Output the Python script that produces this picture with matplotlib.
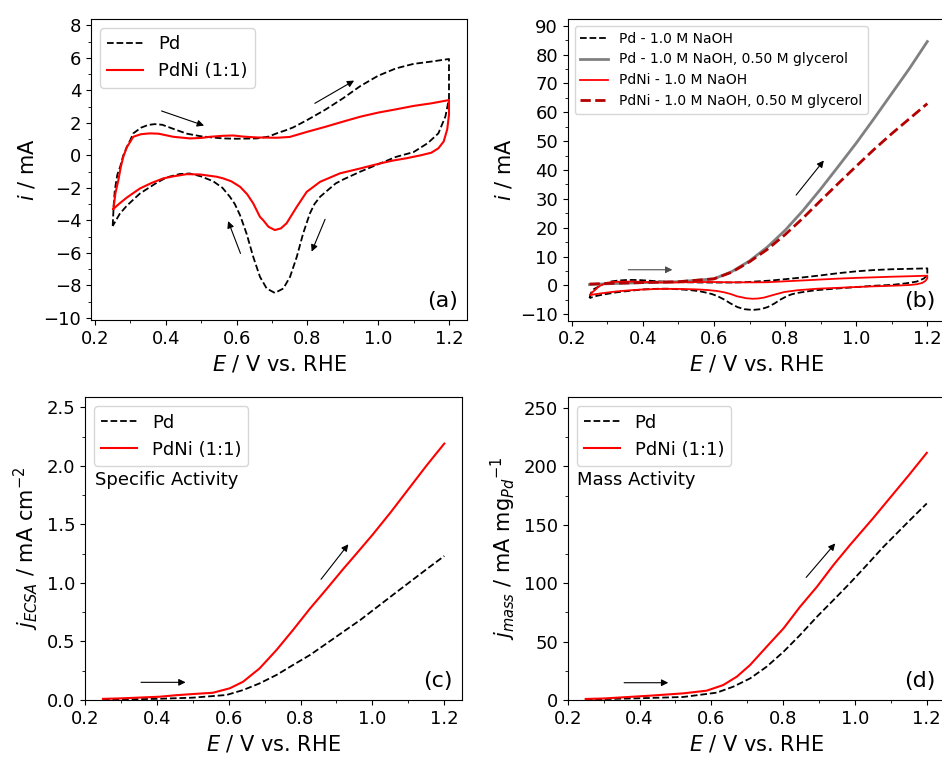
import matplotlib.pyplot as plt
from matplotlib.ticker import MultipleLocator

# --- (a) CV in 1.0 M NaOH: anodic (fwd) and cathodic (rev) branches ---
pd_E_fwd = [0.25, 0.253, 0.256, 0.263, 0.271, 0.28, 0.29, 0.30, 0.308, 0.33, 0.35, 0.369,
            0.39, 0.431, 0.46, 0.497, 0.53, 0.562, 0.60, 0.657, 0.69, 0.713, 0.74, 0.76,
            0.80, 0.85, 0.90, 0.95, 1.00, 1.05, 1.10, 1.15, 1.20]
pd_i_fwd = [-4.35, -3.0, -2.14, -1.2, -0.71, 0.0, 0.52, 0.95, 1.35, 1.7, 1.87, 1.92,
            1.88, 1.55, 1.33, 1.18, 1.1, 1.04, 1.02, 1.04, 1.15, 1.35, 1.55, 1.72,
            2.18, 2.8, 3.5, 4.27, 4.9, 5.35, 5.63, 5.77, 5.93]
pd_E_rev = [1.20, 1.20, 1.19, 1.17, 1.14, 1.10, 1.05, 1.00, 0.95, 0.90, 0.88, 0.86, 0.836,
            0.82, 0.807, 0.788, 0.77, 0.751, 0.732, 0.708, 0.685, 0.666, 0.647, 0.628, 0.61,
            0.595, 0.581, 0.56, 0.534, 0.50, 0.468, 0.44, 0.402, 0.37, 0.327, 0.29, 0.27, 0.25]
pd_i_rev = [5.93, 3.5, 2.4, 1.35, 0.75, 0.2, -0.1, -0.55, -1.0, -1.5, -1.73, -2.1, -2.55,
            -3.0, -3.58, -4.81, -6.25, -7.48, -8.2, -8.47, -8.2, -7.48, -6.25, -4.81, -3.7,
            -3.0, -2.55, -2.0, -1.6, -1.3, -1.12, -1.15, -1.36, -1.75, -2.35, -3.1, -3.6, -4.35]

pdni_E_fwd = [0.252, 0.258, 0.266, 0.273, 0.28, 0.29, 0.30, 0.308, 0.33, 0.355, 0.38, 0.421,
              0.468, 0.50, 0.525, 0.56, 0.591, 0.62, 0.657, 0.713, 0.75, 0.80, 0.85, 0.90,
              0.95, 1.00, 1.05, 1.10, 1.15, 1.20]
pdni_i_fwd = [-3.3, -2.3, -1.53, -0.7, -0.09, 0.5, 0.85, 1.14, 1.3, 1.35, 1.33, 1.14,
              1.04, 1.07, 1.14, 1.2, 1.22, 1.15, 1.1, 1.08, 1.13, 1.45, 1.75, 2.07,
              2.38, 2.63, 2.83, 3.04, 3.2, 3.4]
pdni_E_rev = [1.20, 1.20, 1.195, 1.185, 1.17, 1.15, 1.12, 1.08, 1.04, 1.005, 0.949, 0.892,
              0.836, 0.798, 0.77, 0.741, 0.725, 0.708, 0.69, 0.675, 0.666, 0.647, 0.63, 0.61,
              0.585, 0.562, 0.544, 0.497, 0.459, 0.42, 0.393, 0.36, 0.327, 0.29, 0.27, 0.252]
pdni_i_rev = [3.4, 2.5, 1.6, 0.85, 0.43, 0.16, 0.0, -0.18, -0.33, -0.5, -0.81, -1.11,
              -1.63, -2.25, -3.17, -4.19, -4.5, -4.6, -4.4, -3.99, -3.79, -2.96, -2.4, -1.94,
              -1.6, -1.42, -1.32, -1.18, -1.16, -1.3, -1.42, -1.7, -2.04, -2.6, -2.95, -3.3]

# --- (b) forward scans in 1.0 M NaOH + 0.50 M glycerol ---
gly_E = [0.25, 0.30, 0.40, 0.50, 0.55, 0.60, 0.65, 0.70, 0.75, 0.80, 0.85, 0.90,
         0.95, 1.00, 1.05, 1.10, 1.15, 1.20]
pd_gly_i = [0.3, 0.6, 1.0, 1.3, 1.8, 2.3, 4.8, 8.5, 13.3, 19.1, 25.9, 33.4,
            41.3, 49.3, 57.8, 66.5, 75.2, 84.5]
pdni_gly_i = [0.5, 0.7, 1.0, 1.3, 1.8, 2.3, 4.6, 8.2, 12.5, 17.6, 23.3, 29.4,
              35.4, 41.3, 47.1, 52.6, 57.8, 63.0]

# --- (c) specific activity ---
sa_pd_E = [0.25, 0.30, 0.40, 0.50, 0.594, 0.64, 0.686, 0.733, 0.779, 0.826, 0.873, 0.919,
           0.966, 1.058, 1.152, 1.20]
sa_pd_j = [0.003, 0.005, 0.01, 0.02, 0.043, 0.085, 0.142, 0.214, 0.299, 0.384, 0.484, 0.583,
           0.683, 0.90, 1.12, 1.23]
sa_pdni_E = [0.25, 0.30, 0.407, 0.45, 0.50, 0.556, 0.603, 0.64, 0.686, 0.733, 0.779, 0.826,
             0.873, 0.919, 0.95, 1.00, 1.05, 1.10, 1.15, 1.20]
sa_pdni_j = [0.01, 0.014, 0.028, 0.04, 0.051, 0.062, 0.10, 0.156, 0.27, 0.427, 0.598, 0.78,
             0.95, 1.12, 1.23, 1.41, 1.60, 1.80, 2.00, 2.19]

# --- (d) mass activity ---
ma_pd_E = [0.25, 0.30, 0.40, 0.522, 0.615, 0.661, 0.708, 0.754, 0.801, 0.847, 0.894, 0.94,
           0.986, 1.033, 1.079, 1.15, 1.20]
ma_pd_j = [0.5, 0.8, 1.5, 2.6, 6.3, 11.4, 18.5, 28.5, 41.3, 55.6, 71.2, 85.5,
           100.0, 115.5, 131.0, 153.0, 168.2]
ma_pdni_E = [0.25, 0.30, 0.429, 0.522, 0.587, 0.633, 0.671, 0.708, 0.754, 0.801, 0.847, 0.894,
             0.94, 0.986, 1.05, 1.10, 1.15, 1.20]
ma_pdni_j = [0.9, 1.3, 3.7, 5.7, 8.0, 12.8, 20.0, 30.0, 45.6, 61.3, 79.8, 96.9,
             115.5, 132.6, 155.4, 173.9, 192.4, 211.5]

xlab = r'$E$ / V vs. RHE'
TICK = 13


def style(ax, ymin):
    ax.xaxis.set_major_locator(MultipleLocator(0.2))
    ax.xaxis.set_minor_locator(MultipleLocator(0.1))
    ax.yaxis.set_minor_locator(MultipleLocator(ymin))
    ax.tick_params(labelsize=TICK)
    ax.set_xlabel(xlab, fontsize=15)


def arrow(ax, start, end, color='k'):
    ax.annotate('', xy=end, xytext=start,
                arrowprops=dict(arrowstyle='-|>', color=color, lw=0.8, mutation_scale=10,
                                shrinkA=0, shrinkB=0))


fig = plt.figure(figsize=(9.42, 7.58), dpi=100)

# (a)
ax = fig.add_axes([0.0966, 0.5778, 0.3992, 0.3971])
ax.plot(pd_E_fwd + pd_E_rev, pd_i_fwd + pd_i_rev, 'k--', lw=1.3, label='Pd')
ax.plot(pdni_E_fwd + pdni_E_rev, pdni_i_fwd + pdni_i_rev, color='red', lw=1.5, label='PdNi (1:1)')
ax.set_xlim(0.1887, 1.251)
ax.set_ylim(-10.14, 8.39)
ax.yaxis.set_major_locator(MultipleLocator(2))
style(ax, 1)
ax.set_ylabel(r'$i$ / mA', fontsize=15)
ax.legend(loc='upper left', fontsize=13)
ax.text(0.975, 0.064, '(a)', transform=ax.transAxes, ha='right', va='center', fontsize=16)
arrow(ax, (0.388, 2.73), (0.508, 1.83))
arrow(ax, (0.821, 3.2), (0.932, 4.6))
arrow(ax, (0.611, -6.04), (0.576, -4.05))
arrow(ax, (0.850, -3.94), (0.812, -5.93))

# (b)
ax = fig.add_axes([0.6027, 0.5769, 0.4002, 0.398])
ax.plot(pd_E_fwd + pd_E_rev, pd_i_fwd + pd_i_rev, 'k--', lw=1.3, label='Pd - 1.0 M NaOH')
ax.plot(gly_E, pd_gly_i, color='grey', lw=2, label='Pd - 1.0 M NaOH, 0.50 M glycerol')
ax.plot(pdni_E_fwd + pdni_E_rev, pdni_i_fwd + pdni_i_rev, color='red', lw=1.3,
        label='PdNi - 1.0 M NaOH')
ax.plot(gly_E, pdni_gly_i, '--', color='#b30000', lw=2,
        label='PdNi - 1.0 M NaOH, 0.50 M glycerol')
ax.set_xlim(0.1888, 1.249)
ax.set_ylim(-12.2, 92.3)
ax.yaxis.set_major_locator(MultipleLocator(10))
style(ax, 5)
ax.set_ylabel(r'$i$ / mA', fontsize=15)
ax.legend(loc='upper left', fontsize=10)
ax.text(0.975, 0.064, '(b)', transform=ax.transAxes, ha='right', va='center', fontsize=16)
arrow(ax, (0.359, 5.45), (0.483, 5.45), color='0.3')
arrow(ax, (0.831, 31.3), (0.909, 43.3))

# (c)
ax = fig.add_axes([0.0902, 0.0765, 0.4005, 0.3993])
ax.plot(sa_pd_E, sa_pd_j, 'k--', lw=1.3, label='Pd')
ax.plot(sa_pdni_E, sa_pdni_j, color='red', lw=1.5, label='PdNi (1:1)')
ax.set_xlim(0.2, 1.25)
ax.set_ylim(0, 2.585)
ax.yaxis.set_major_locator(MultipleLocator(0.5))
style(ax, 0.25)
ax.set_ylabel(r'$j_{ECSA}$ / mA cm$^{-2}$', fontsize=15)
ax.legend(loc='upper left', fontsize=13)
ax.text(0.027, 0.727, 'Specific Activity', transform=ax.transAxes, va='center', fontsize=13)
ax.text(0.975, 0.064, '(c)', transform=ax.transAxes, ha='right', va='center', fontsize=16)
arrow(ax, (0.356, 0.151), (0.48, 0.151))
arrow(ax, (0.857, 1.031), (0.933, 1.33))

# (d)
ax = fig.add_axes([0.6027, 0.0765, 0.4002, 0.3993])
ax.plot(ma_pd_E, ma_pd_j, 'k--', lw=1.3, label='Pd')
ax.plot(ma_pdni_E, ma_pdni_j, color='red', lw=1.5, label='PdNi (1:1)')
ax.set_xlim(0.2, 1.25)
ax.set_ylim(0, 259)
ax.yaxis.set_major_locator(MultipleLocator(50))
style(ax, 25)
ax.set_ylabel(r'$j_{mass}$ / mA mg$_{Pd}$$^{-1}$', fontsize=15)
ax.legend(loc='upper left', fontsize=13)
ax.text(0.024, 0.727, 'Mass Activity', transform=ax.transAxes, va='center', fontsize=13)
ax.text(0.975, 0.064, '(d)', transform=ax.transAxes, ha='right', va='center', fontsize=16)
arrow(ax, (0.357, 14.8), (0.48, 14.8))
arrow(ax, (0.864, 104.9), (0.945, 134))

fig.savefig('out.png', dpi=100)
